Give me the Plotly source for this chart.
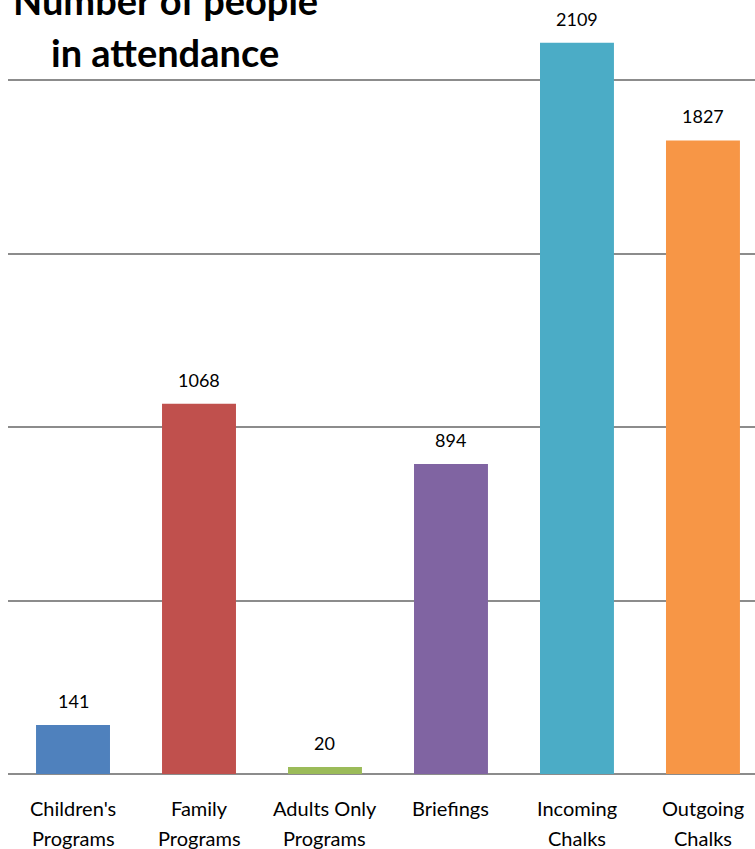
import plotly.graph_objects as go

categories = ["Children's Programs", "Family Programs", "Adults Only Programs",
              "Briefings", "Incoming Chalks", "Outgoing Chalks"]
label_line1 = ["Children's", "Family", "Adults Only", "Briefings", "Incoming", "Outgoing"]
label_line2 = ["Programs", "Programs", "Programs", "", "Chalks", "Chalks"]
values = [141, 1068, 20, 894, 2109, 1827]
colors = ["#4F81BD", "#C0504D", "#9BBB59", "#8064A2", "#4BACC6", "#F79646"]
title_lines = ["Number of people", "in attendance"]

W, H = 755, 849
ML, MB = 8, 75
plot_h = H - MB
FONT = "Lato"

fig = go.Figure(go.Bar(
    x=list(range(len(categories))),
    y=values,
    marker=dict(color=colors, line=dict(width=0)),
    hoverinfo="skip",
))

annotations = []
for i, v in enumerate(values):
    annotations.append(dict(x=i, y=v, xref="x", yref="y", text=str(v), showarrow=False,
                            yanchor="middle", yshift=24,
                            font=dict(family=FONT, size=18, color="#000")))
    annotations.append(dict(x=i, y=0, xref="x", yref="y", text=label_line1[i], showarrow=False,
                            yanchor="middle", yshift=-34,
                            font=dict(family=FONT, size=20, color="#000")))
    if label_line2[i]:
        annotations.append(dict(x=i, y=0, xref="x", yref="y", text=label_line2[i], showarrow=False,
                                yanchor="middle", yshift=-64,
                                font=dict(family=FONT, size=20, color="#000")))

title_centers = [0, 52]
for t, c in zip(title_lines, title_centers):
    annotations.append(dict(x=(165 - ML) / (W - ML), y=1 - c / plot_h, xref="paper", yref="paper",
                            text="<b>" + t + "</b>", showarrow=False,
                            xanchor="center", yanchor="middle",
                            font=dict(family=FONT, size=38, color="#000")))

fig.update_layout(
    width=W, height=H,
    margin=dict(l=ML, r=0, t=0, b=MB, pad=0),
    paper_bgcolor="white", plot_bgcolor="white",
    showlegend=False,
    bargap=0.413,
    annotations=annotations,
    xaxis=dict(range=[-0.516, 5.413], showticklabels=False, showgrid=False, zeroline=False,
               showline=False, ticks=""),
    yaxis=dict(range=[0, 2232], dtick=500, tick0=0, showticklabels=False, showgrid=True,
               gridcolor="#8C8C8C", gridwidth=1.5, zeroline=True, zerolinecolor="#8C8C8C",
               zerolinewidth=2, showline=False, ticks=""),
)

fig.write_html("out.html", config={"displayModeBar": False},
               post_script="document.body.style.margin='0';document.body.style.padding='0';")
